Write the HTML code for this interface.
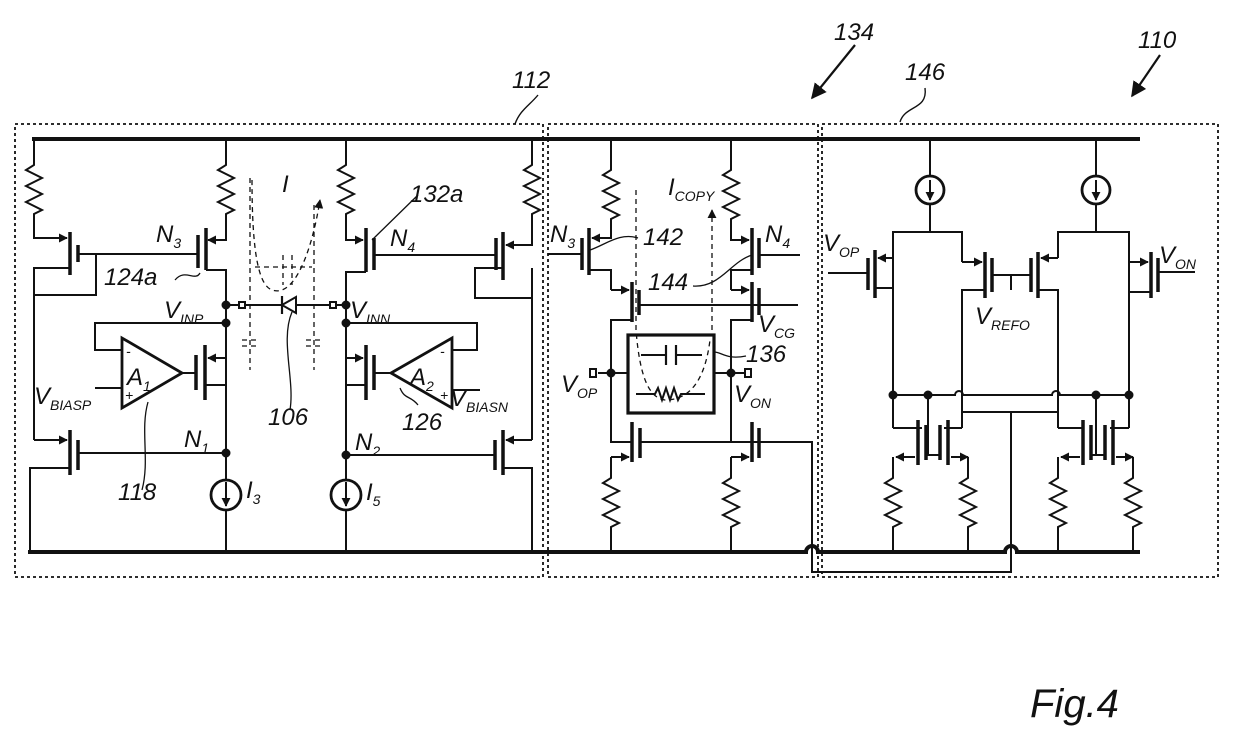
<!DOCTYPE html>
<html><head><meta charset="utf-8"><style>
html,body{margin:0;padding:0;background:#fff;}
svg{display:block;}
text{font-family:"Liberation Sans",sans-serif;font-style:italic;fill:#111;}
.l{font-size:24px;}
.s{font-size:14px;}
</style></head><body>
<svg width="1240" height="740" viewBox="0 0 1240 740" xmlns="http://www.w3.org/2000/svg">
<defs>
<marker id="ar" viewBox="0 0 10 10" refX="9" refY="5" markerWidth="4.5" markerHeight="4.5" orient="auto"><path d="M0,0L10,5L0,10z" fill="#111"/></marker>
<marker id="ab" viewBox="0 0 10 10" refX="9" refY="5" markerWidth="7" markerHeight="7" orient="auto"><path d="M0,0L10,5L0,10z" fill="#111"/></marker>
</defs>
<g fill="none" stroke="#111" stroke-width="2">
<g stroke-dasharray="3,3" stroke-width="1.8">
<rect x="15" y="124" width="528" height="453"/>
<rect x="548" y="124" width="270" height="453"/>
<rect x="822" y="124" width="396" height="453"/>
</g>
<line x1="32" y1="139" x2="1140" y2="139" stroke-width="4"/>
<path d="M28,552 H806 a6,6 0 0 1 12,0 H1005 a6,6 0 0 1 12,0 H1140" stroke-width="4"/>

<!-- ===== Box 1 left ===== -->
<path d="M34,139 V165 l-8,5 l16,8 l-16,8 l16,8 l-16,8 l16,8 l-8,4 V238 H67" marker-end="url(#ar)"/>
<path d="M226,139 V165 l-8,5 l16,8 l-16,8 l16,8 l-16,8 l16,8 l-8,4 V240 H208" marker-end="url(#ar)"/>
<line x1="70" y1="232" x2="70" y2="275" stroke-width="3.5"/>
<line x1="78" y1="245" x2="78" y2="262" stroke-width="3.5"/>
<path d="M78,254 H198"/>
<line x1="198" y1="235" x2="198" y2="268" stroke-width="3.5"/>
<line x1="206" y1="228" x2="206" y2="270" stroke-width="3.5"/>
<path d="M70,268 H34 V440"/>
<path d="M34,440 H67" marker-end="url(#ar)"/>
<path d="M34,295 H96 V254"/>
<path d="M206,270 H226 V480"/>
<line x1="70" y1="430" x2="70" y2="475" stroke-width="3.5"/>
<line x1="78" y1="440" x2="78" y2="470" stroke-width="3.5"/>
<path d="M78,453 H226"/>
<path d="M70,468 H30 V552"/>
<circle cx="226" cy="495" r="15" stroke-width="2.8"/>
<path d="M226,482 V506" marker-end="url(#ar)"/>
<path d="M226,510 V552"/>
<path d="M122,338 L122,408 L182,373 Z" stroke-width="2.8"/>
<path d="M226,323 H95 V350 H122"/>
<path d="M95,388 H122"/>
<path d="M182,373 H196"/>
<line x1="196" y1="355" x2="196" y2="390" stroke-width="3.5"/>
<line x1="205" y1="345" x2="205" y2="400" stroke-width="3.5"/>
<path d="M226,358 H208" marker-end="url(#ar)"/>
<path d="M205,385 H226"/>
<path d="M148,402 C140,430 150,460 142,490" stroke-width="1.3"/>
<path d="M226,305 H239 M245,305 H282 M296,305 H330 M336,305 H346"/>
<rect x="239" y="302" width="6" height="6"/>
<rect x="330" y="302" width="6" height="6"/>
<path d="M296,297 L282,305 L296,313 Z"/>
<line x1="282" y1="296" x2="282" y2="314" stroke-width="2.2"/>
<path d="M292,312 C280,340 295,380 290,410" stroke-width="1.3"/>
<g stroke-dasharray="5,4" stroke-width="1.3">
<path d="M250,178 V370"/>
<path d="M314,205 V370"/>
<path d="M252,180 C252,250 258,285 272,290 C295,298 312,250 320,200" marker-end="url(#ab)"/>
<path d="M255,267 H312"/>
<path d="M283,255 V285 M292,255 V285"/>
<path d="M242,340 H258 M242,346 H258 M306,340 H322 M306,346 H322"/>
</g>
<circle cx="226" cy="305" r="3.5" fill="#111"/>
<circle cx="226" cy="323" r="3.5" fill="#111"/>
<circle cx="226" cy="453" r="3.5" fill="#111"/>
<path d="M200,273 C195,282 185,268 175,280" stroke-width="1.3"/>

<!-- ===== Box 1 right ===== -->
<path d="M346,139 V165 l-8,5 l16,8 l-16,8 l16,8 l-16,8 l16,8 l-8,4 V240 H363" marker-end="url(#ar)"/>
<path d="M532,139 V165 l-8,5 l16,8 l-16,8 l16,8 l-16,8 l16,8 l-8,4 V245 H506" marker-end="url(#ar)"/>
<line x1="366" y1="228" x2="366" y2="272" stroke-width="3.5"/>
<line x1="374" y1="238" x2="374" y2="270" stroke-width="3.5"/>
<path d="M374,255 H496"/>
<line x1="496" y1="238" x2="496" y2="270" stroke-width="3.5"/>
<line x1="503" y1="232" x2="503" y2="280" stroke-width="3.5"/>
<path d="M366,272 H346 V480"/>
<path d="M503,268 H475 V298 H532 M532,268 V440"/>
<path d="M532,440 H506" marker-end="url(#ar)"/>
<line x1="503" y1="430" x2="503" y2="475" stroke-width="3.5"/>
<line x1="495" y1="440" x2="495" y2="470" stroke-width="3.5"/>
<path d="M346,455 H495"/>
<path d="M503,468 H532 V552"/>
<circle cx="346" cy="495" r="15" stroke-width="2.8"/>
<path d="M346,482 V506" marker-end="url(#ar)"/>
<path d="M346,510 V552"/>
<path d="M452,338 L452,408 L391,373 Z" stroke-width="2.8"/>
<path d="M346,323 H477 V350 H452"/>
<path d="M480,390 H452"/>
<path d="M391,373 H374"/>
<line x1="374" y1="355" x2="374" y2="390" stroke-width="3.5"/>
<line x1="366" y1="345" x2="366" y2="400" stroke-width="3.5"/>
<path d="M346,358 H363" marker-end="url(#ar)"/>
<path d="M366,385 H346"/>
<path d="M400,388 C405,400 410,395 418,405" stroke-width="1.3"/>
<path d="M372,240 L418,195" stroke-width="1.3"/>
<circle cx="346" cy="305" r="3.5" fill="#111"/>
<circle cx="346" cy="323" r="3.5" fill="#111"/>
<circle cx="346" cy="455" r="3.5" fill="#111"/>

<!-- ===== Box 2 ===== -->
<path d="M611,139 V170 l-8,5 l16,8 l-16,8 l16,8 l-16,8 l16,8 l-8,4 V238 H592" marker-end="url(#ar)"/>
<line x1="589" y1="228" x2="589" y2="275" stroke-width="3.5"/>
<line x1="582" y1="238" x2="582" y2="270" stroke-width="3.5"/>
<path d="M548,254 H582"/>
<path d="M589,270 H611 V290"/>
<path d="M611,290 H629" marker-end="url(#ar)"/>
<line x1="632" y1="282" x2="632" y2="322" stroke-width="3.5"/>
<line x1="639" y1="290" x2="639" y2="315" stroke-width="3.5"/>
<path d="M639,305 H798"/>
<path d="M632,320 H611 V442 H632"/>
<path d="M731,139 V170 l-8,5 l16,8 l-16,8 l16,8 l-16,8 l16,8 l-8,4 V240 H749" marker-end="url(#ar)"/>
<line x1="752" y1="228" x2="752" y2="275" stroke-width="3.5"/>
<line x1="759" y1="238" x2="759" y2="268" stroke-width="3.5"/>
<path d="M759,255 H800"/>
<path d="M752,270 H731 V290"/>
<path d="M731,290 H749" marker-end="url(#ar)"/>
<line x1="752" y1="282" x2="752" y2="322" stroke-width="3.5"/>
<line x1="759" y1="288" x2="759" y2="315" stroke-width="3.5"/>
<path d="M752,320 H731 V442 H752"/>
<rect x="628" y="335" width="86" height="78" stroke-width="3.2"/>
<path d="M611,373 H628 M714,373 H731"/>
<path d="M598,373 H611 M731,373 H744"/>
<rect x="590" y="369" width="6" height="8"/>
<rect x="745" y="369" width="6" height="8"/>
<path d="M641,355 H666 M676,355 H702"/>
<line x1="666" y1="345" x2="666" y2="365" stroke-width="2.2"/>
<line x1="676" y1="345" x2="676" y2="365" stroke-width="2.2"/>
<path d="M636,394 H655 l3,-6 l4,12 l4,-12 l4,12 l4,-12 l4,12 l3,-6 H705"/>
<circle cx="611" cy="373" r="3.5" fill="#111"/>
<circle cx="731" cy="373" r="3.5" fill="#111"/>
<path d="M714,352 C722,352 726,360 746,356" stroke-width="1.3"/>
<g stroke-dasharray="5,4" stroke-width="1.3">
<path d="M636,190 V330 C640,380 650,398 665,400 C690,400 705,380 710,340"/>
<path d="M712,330 V210" marker-end="url(#ab)"/>
</g>
<path d="M590,250 C605,245 620,232 638,238" stroke-width="1.3"/>
<path d="M693,286 C720,288 730,262 752,255" stroke-width="1.3"/>
<line x1="632" y1="422" x2="632" y2="462" stroke-width="3.5"/>
<line x1="640" y1="428" x2="640" y2="458" stroke-width="3.5"/>
<line x1="752" y1="422" x2="752" y2="462" stroke-width="3.5"/>
<line x1="759" y1="428" x2="759" y2="458" stroke-width="3.5"/>
<path d="M640,442 H812 V572 H1011 V412"/>
<path d="M611,457 H629" marker-end="url(#ar)"/>
<path d="M731,457 H749" marker-end="url(#ar)"/>
<path d="M611,457 V478 l-8,5 l16,8 l-16,8 l16,8 l-16,8 l16,8 l-8,4 V552"/>
<path d="M731,457 V478 l-8,5 l16,8 l-16,8 l16,8 l-16,8 l16,8 l-8,4 V552"/>

<!-- ===== Box 3 ===== -->
<path d="M930,139 V176 M930,204 V232 M1096,139 V176 M1096,204 V232"/>
<circle cx="930" cy="190" r="14" stroke-width="2.8"/>
<circle cx="1096" cy="190" r="14" stroke-width="2.8"/>
<path d="M930,180 V200" marker-end="url(#ar)"/>
<path d="M1096,180 V200" marker-end="url(#ar)"/>
<path d="M893,428 V232 H962 V262"/>
<path d="M962,262 H982" marker-end="url(#ar)"/>
<path d="M893,258 H878" marker-end="url(#ar)"/>
<line x1="875" y1="250" x2="875" y2="298" stroke-width="3.5"/>
<line x1="868" y1="258" x2="868" y2="290" stroke-width="3.5"/>
<path d="M828,273 H868"/>
<path d="M875,288 H893"/>
<line x1="985" y1="252" x2="985" y2="298" stroke-width="3.5"/>
<line x1="992" y1="258" x2="992" y2="292" stroke-width="3.5"/>
<line x1="1038" y1="252" x2="1038" y2="298" stroke-width="3.5"/>
<line x1="1031" y1="258" x2="1031" y2="292" stroke-width="3.5"/>
<path d="M992,275 H1031 M1011,275 V290"/>
<path d="M985,290 H962 V428"/>
<path d="M1129,428 V232 H1058 V258"/>
<path d="M1058,258 H1041" marker-end="url(#ar)"/>
<path d="M1038,290 H1058 V428"/>
<path d="M1129,262 H1148" marker-end="url(#ar)"/>
<line x1="1151" y1="252" x2="1151" y2="298" stroke-width="3.5"/>
<line x1="1158" y1="258" x2="1158" y2="292" stroke-width="3.5"/>
<path d="M1158,272 H1195"/>
<path d="M1151,292 H1129"/>
<path d="M893,395 H955 a4,4 0 0 1 8,0 H1052 a4,4 0 0 1 8,0 H1129"/>
<path d="M962,412 H1058"/>
<circle cx="893" cy="395" r="3.5" fill="#111"/>
<circle cx="928" cy="395" r="3.5" fill="#111"/>
<circle cx="1096" cy="395" r="3.5" fill="#111"/>
<circle cx="1129" cy="395" r="3.5" fill="#111"/>
<path d="M893,428 H922 M962,428 H944"/>
<line x1="918" y1="420" x2="918" y2="465" stroke-width="3.5"/>
<line x1="926" y1="425" x2="926" y2="460" stroke-width="3.5"/>
<line x1="948" y1="420" x2="948" y2="465" stroke-width="3.5"/>
<line x1="940" y1="425" x2="940" y2="460" stroke-width="3.5"/>
<path d="M928,395 V455 M926,455 H940"/>
<path d="M915,457 H896" marker-end="url(#ar)"/>
<path d="M951,457 H968" marker-end="url(#ar)"/>
<path d="M893,457 V478 l-8,5 l16,8 l-16,8 l16,8 l-16,8 l16,8 l-8,4 V552"/>
<path d="M968,457 V478 l-8,5 l16,8 l-16,8 l16,8 l-16,8 l16,8 l-8,4 V552"/>
<path d="M1058,428 H1083 M1129,428 H1110"/>
<line x1="1083" y1="420" x2="1083" y2="465" stroke-width="3.5"/>
<line x1="1091" y1="425" x2="1091" y2="460" stroke-width="3.5"/>
<line x1="1113" y1="420" x2="1113" y2="465" stroke-width="3.5"/>
<line x1="1105" y1="425" x2="1105" y2="460" stroke-width="3.5"/>
<path d="M1096,395 V455 M1091,455 H1105"/>
<path d="M1080,457 H1061" marker-end="url(#ar)"/>
<path d="M1116,457 H1133" marker-end="url(#ar)"/>
<path d="M1058,457 V478 l-8,5 l16,8 l-16,8 l16,8 l-16,8 l16,8 l-8,4 V552"/>
<path d="M1133,457 V478 l-8,5 l16,8 l-16,8 l16,8 l-16,8 l16,8 l-8,4 V552"/>

<path d="M538,95 C530,105 520,110 515,124" stroke-width="1.4"/>
<path d="M855,45 L812,98" marker-end="url(#ab)" stroke-width="2.2"/>
<path d="M925,88 C928,110 905,105 900,122" stroke-width="1.4"/>
<path d="M1160,55 L1132,96" marker-end="url(#ab)" stroke-width="2.2"/>
</g>

<text class="l" x="512" y="88">112</text>
<text class="l" x="834" y="40">134</text>
<text class="l" x="905" y="80">146</text>
<text class="l" x="1138" y="48">110</text>
<text class="l" x="282" y="192">I</text>
<text class="l" x="410" y="202">132a</text>
<text class="l" x="156" y="242">N<tspan class="s" dy="6">3</tspan></text>
<text class="l" x="390" y="246">N<tspan class="s" dy="6">4</tspan></text>
<text class="l" x="104" y="285">124a</text>
<text class="l" x="164" y="318">V<tspan class="s" dy="6">INP</tspan></text>
<text class="l" x="350" y="318">V<tspan class="s" dy="6">INN</tspan></text>
<text class="l" x="127" y="385">A<tspan class="s" dy="6">1</tspan></text>
<text class="l" x="410" y="385">A<tspan class="s" dy="6">2</tspan></text>
<text class="s" x="126" y="356">-</text>
<text class="s" x="125" y="400">+</text>
<text class="s" x="440" y="356">-</text>
<text class="s" x="440" y="400">+</text>
<text class="l" x="34" y="404">V<tspan class="s" dy="6">BIASP</tspan></text>
<text class="l" x="450" y="406">V<tspan class="s" dy="6">BIASN</tspan></text>
<text class="l" x="268" y="425">106</text>
<text class="l" x="402" y="430">126</text>
<text class="l" x="184" y="447">N<tspan class="s" dy="6">1</tspan></text>
<text class="l" x="355" y="450">N<tspan class="s" dy="6">2</tspan></text>
<text class="l" x="118" y="500">118</text>
<text class="l" x="246" y="498">I<tspan class="s" dy="6">3</tspan></text>
<text class="l" x="366" y="500">I<tspan class="s" dy="6">5</tspan></text>
<text class="l" x="668" y="195">I<tspan class="s" dy="6">COPY</tspan></text>
<text class="l" x="550" y="242">N<tspan class="s" dy="6">3</tspan></text>
<text class="l" x="765" y="242">N<tspan class="s" dy="6">4</tspan></text>
<text class="l" x="643" y="245">142</text>
<text class="l" x="648" y="290">144</text>
<text class="l" x="758" y="332">V<tspan class="s" dy="6">CG</tspan></text>
<text class="l" x="746" y="362">136</text>
<text class="l" x="561" y="392">V<tspan class="s" dy="6">OP</tspan></text>
<text class="l" x="734" y="402">V<tspan class="s" dy="6">ON</tspan></text>
<text class="l" x="823" y="251">V<tspan class="s" dy="6">OP</tspan></text>
<text class="l" x="1159" y="263">V<tspan class="s" dy="6">ON</tspan></text>
<text class="l" x="975" y="324">V<tspan class="s" dy="6">REFO</tspan></text>
<text x="1030" y="717" style="font-size:40px">Fig.4</text>
</svg>
</body></html>
